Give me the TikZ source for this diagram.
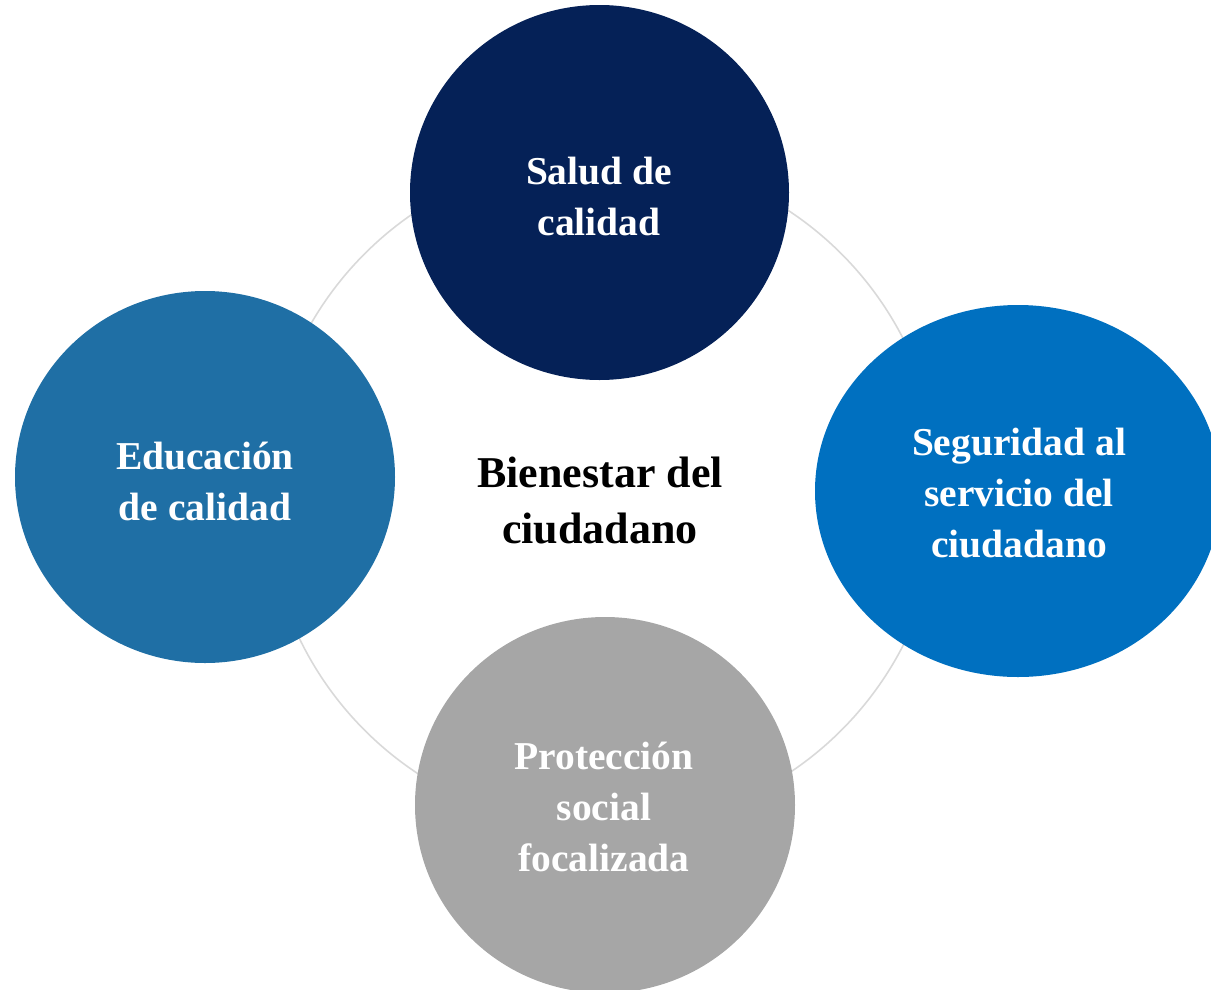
\documentclass[tikz,border=0pt]{standalone}
\usepackage{fontspec}
\setmainfont{Liberation Serif}
\usetikzlibrary{shapes.geometric}
\definecolor{navy}{HTML}{052157}
\definecolor{steel}{HTML}{1F6FA5}
\definecolor{brightblue}{HTML}{0070C0}
\definecolor{midgrey}{HTML}{A6A6A6}
\definecolor{ringgrey}{HTML}{D9D9D9}
\tikzset{
  bubble/.style={ellipse, inner sep=0pt, align=center, text=white},
  label/.style={inner sep=0pt, align=center, text=white,
    font=\fontsize{39.5}{51}\selectfont\bfseries},
  hub/.style={inner sep=0pt, align=center, text=black,
    font=\fontsize{44}{56}\selectfont\bfseries},
}
\begin{document}
\begin{tikzpicture}[x=1pt,y=-1pt]
\useasboundingbox (0,0) rectangle (1211,989);
\clip (0,0) rectangle (1211,989);
\node[circle, draw=ringgrey, line width=1.6pt, minimum size=674pt, inner sep=0pt] (ring) at (603,492) {};
\node[bubble, fill=navy, minimum width=379pt, minimum height=375pt] (salud) at (599.5,192.5) {};
\node[label] (saludt) at (599,196) {Salud de\\calidad};
\node[bubble, fill=steel, minimum width=380pt, minimum height=372pt] (edu) at (205,477) {};
\node[label] (edut) at (205,481) {Educación\\de calidad};
\node[bubble, fill=brightblue, minimum width=406pt, minimum height=372pt] (seg) at (1018,491) {};
\node[label] (segt) at (1019,493) {Seguridad al\\servicio del\\ciudadano};
\node[bubble, fill=midgrey, minimum width=380pt, minimum height=376pt] (prot) at (605,805) {};
\node[label] (prott) at (604,807) {Protección\\social\\focalizada};
\node[hub] (center) at (600,500) {Bienestar del\\ciudadano};
\end{tikzpicture}
\end{document}
